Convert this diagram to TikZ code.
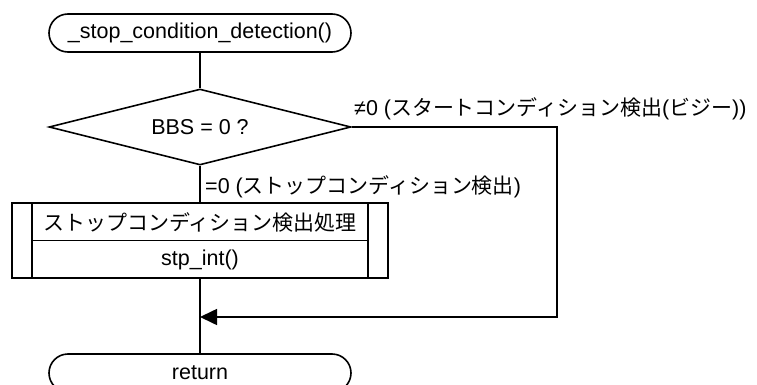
\documentclass[tikz,border=0pt]{standalone}
\usepackage{fontspec}
\setmainfont{Liberation Sans}
\newfontfamily\jpfont{Noto Sans CJK JP}[Scale=0.975]
\newcommand{\jp}[1]{{\jpfont #1}}
\usetikzlibrary{shapes.geometric,arrows.meta,calc}
\begin{document}
\begin{tikzpicture}[x=1pt,y=-1pt,
  every node/.style={font=\fontsize{21.5}{25}\selectfont},
  line/.style={line width=1.6pt},
  term/.style={draw,line width=1.6pt,rectangle,rounded corners=19pt,minimum width=302pt,minimum height=38pt,inner sep=0pt},
  decision/.style={draw,line width=1.6pt,diamond,aspect=4,minimum width=302pt,minimum height=76pt,inner sep=0pt},
  subbox/.style={draw,line width=1.6pt,rectangle,minimum width=376pt,minimum height=75pt,inner sep=0pt},
  lbl/.style={anchor=west,inner sep=0pt}]
\useasboundingbox (0,0) rectangle (757,385);
\begin{scope}
\clip (0,0) rectangle (757,385);
\node[term] (start) at (200,33) {\_stop\_condition\_detection()};
\node[decision] (dec) at (200,127) {BBS = 0 ?};
\node[subbox] (sub) at (200,240.5) {};
\node[term] (ret) at (200,373) {return};
\end{scope}
\coordinate (il) at ($(sub.north west)+(21,0)$);
\coordinate (ir) at ($(sub.north east)+(-21,0)$);
\coordinate (ilb) at ($(sub.south west)+(21,0)$);
\coordinate (irb) at ($(sub.south east)+(-21,0)$);
\draw[line] (il) -- (ilb);
\draw[line] (ir) -- (irb);
\draw[line] (il |- sub.center) -- (ir |- sub.center);
\node (subA) at (200,222) {\jp{ストップコンディション検出処理}};
\node (subB) at (200,260) {stp\_int()};
\coordinate (c1) at (557,127);
\coordinate (c2) at (557,317);
\coordinate (m) at (200,317);
\draw[line] (start) -- (dec);
\draw[line] (dec.south) -- (sub.north);
\draw[line] (sub.south) -- (ret.north);
\draw[line,-{Triangle[length=17pt,width=16pt]}] (dec.east) -- (c1) -- (c2) -- (m);
\node[lbl] (lne) at (354,109) {≠0 (\jp{スタートコンディション検出}(\jp{ビジー}))};
\node[lbl] (leq) at (205,187) {=0 (\jp{ストップコンディション検出})};
\end{tikzpicture}
\end{document}
